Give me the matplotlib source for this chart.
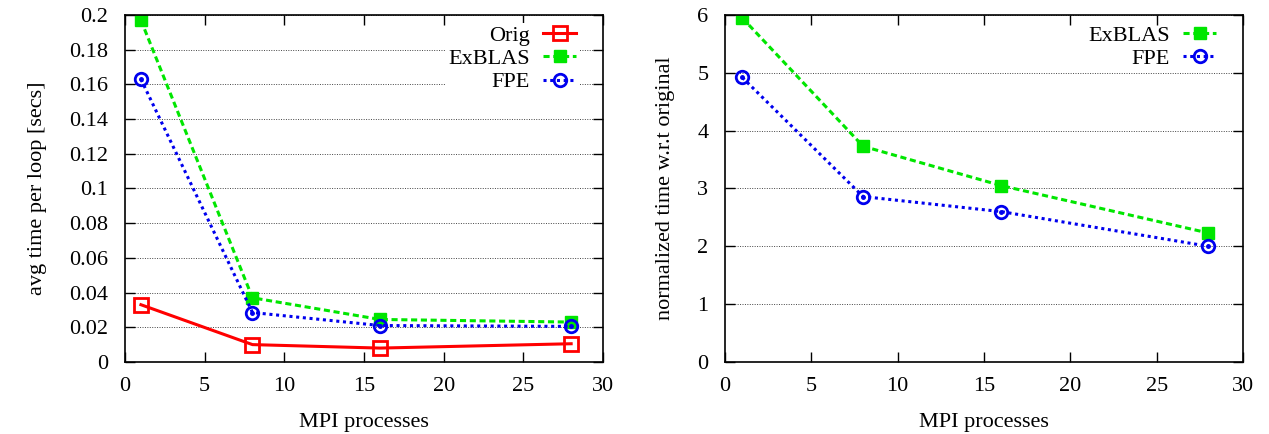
import matplotlib
matplotlib.use("Agg")
import matplotlib.pyplot as plt

plt.rcParams['font.family'] = ['Liberation Serif', 'DejaVu Serif']
plt.rcParams['font.size'] = 16

# MPI process counts
procs = [1, 8, 16, 28]

# left panel: avg time per loop [secs]
orig_time = [0.033, 0.010, 0.008, 0.0105]
exblas_time = [0.197, 0.037, 0.0245, 0.023]
fpe_time = [0.163, 0.0285, 0.021, 0.0205]

# right panel: normalized time w.r.t original
exblas_norm = [5.95, 3.73, 3.05, 2.23]
fpe_norm = [4.92, 2.86, 2.60, 2.00]

left_yticks = [0, 0.02, 0.04, 0.06, 0.08, 0.1, 0.12, 0.14, 0.16, 0.18, 0.2]
left_ylabels = ['0', '0.02', '0.04', '0.06', '0.08', '0.1', '0.12', '0.14', '0.16', '0.18', '0.2']
right_yticks = [0, 1, 2, 3, 4, 5, 6]
xticks = [0, 5, 10, 15, 20, 25, 30]

RED = '#ff0000'
GREEN = '#00e600'
BLUE = '#0000ee'

fig = plt.figure(figsize=(12.69, 4.34), dpi=100)
ax1 = fig.add_axes([0.0985, 0.166, 0.3767, 0.7994])
ax2 = fig.add_axes([0.5713, 0.166, 0.4082, 0.7994])


def style_axes(ax):
    ax.set_xlim(0, 30)
    ax.set_xticks(xticks)
    ax.tick_params(direction='in', top=True, right=True, length=7, width=1, labelsize=16)
    ax.tick_params(axis='x', pad=11)
    ax.tick_params(axis='y', pad=12)
    ax.yaxis.grid(True, color='#444444', linestyle=(0, (1, 1.5)), linewidth=0.7)
    ax.set_axisbelow(True)
    for s in ax.spines.values():
        s.set_linewidth(1.2)
    ax.set_xlabel('MPI processes', fontsize=16, labelpad=12)


def plot_exblas(ax, y):
    ax.plot(procs, y, color=GREEN, linestyle=(0, (2, 1.2)), linewidth=2.2,
            marker='s', markersize=9, markerfacecolor=GREEN, markeredgecolor=GREEN, label='ExBLAS')


def plot_fpe(ax, y):
    ax.plot(procs, y, color=BLUE, linestyle=(0, (1, 1.2)), linewidth=2.2,
            marker='o', markersize=9, markerfacecolor='none', markeredgewidth=2,
            markeredgecolor=BLUE, label='FPE')
    ax.plot(procs, y, linestyle='none', marker='o', markersize=2.5, color=BLUE)


# left panel
ax1.plot(procs, orig_time, color=RED, linewidth=2.2, marker='s', markersize=10,
         markerfacecolor='none', markeredgewidth=2, markeredgecolor=RED, label='Orig')
plot_exblas(ax1, exblas_time)
plot_fpe(ax1, fpe_time)
ax1.set_ylim(0, 0.2)
ax1.set_yticks(left_yticks)
ax1.set_yticklabels(left_ylabels)
style_axes(ax1)
ax1.set_ylabel('avg time per loop [secs]', fontsize=16, labelpad=16)
leg = ax1.legend(loc='upper right', markerfirst=False, frameon=True, fancybox=False,
                 edgecolor='none', framealpha=1, handlelength=1.5, handletextpad=0.6,
                 labelspacing=0.13, borderaxespad=1.1, borderpad=0.1, fontsize=16,
                 bbox_to_anchor=(1.0, 1.048))

# right panel
plot_exblas(ax2, exblas_norm)
plot_fpe(ax2, fpe_norm)
ax2.set_ylim(0, 6)
ax2.set_yticks(right_yticks)
style_axes(ax2)
ax2.set_ylabel('normalized time w.r.t original', fontsize=16, labelpad=16)
leg2 = ax2.legend(loc='upper right', markerfirst=False, frameon=False,
                  handlelength=1.5, handletextpad=0.6,
                  labelspacing=0.13, borderaxespad=1.1, borderpad=0.1, fontsize=16,
                  bbox_to_anchor=(1.0, 1.048))

fig.savefig('out.png', dpi=100)
